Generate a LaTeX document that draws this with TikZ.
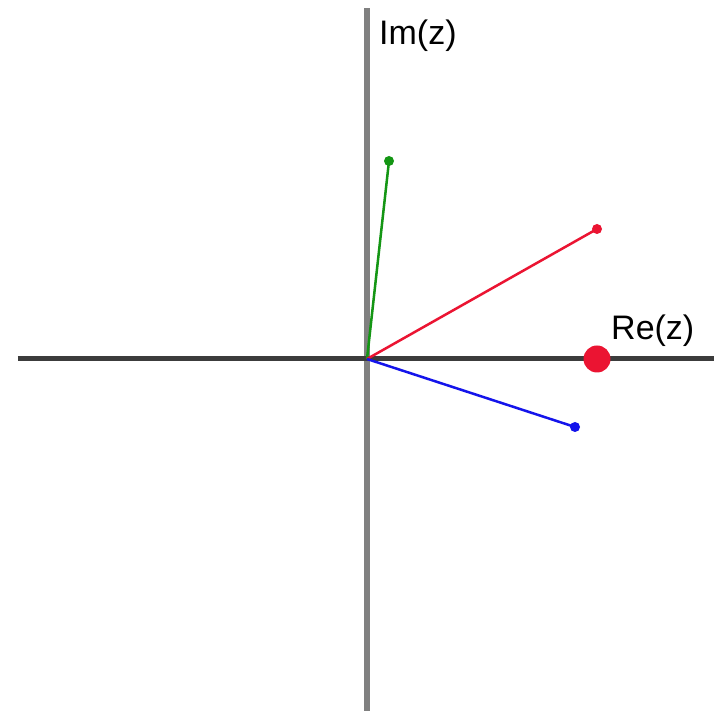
\documentclass[tikz,border=0pt]{standalone}
\usepackage{fontspec}
\setmainfont{Liberation Sans}
\usetikzlibrary{positioning}
\definecolor{axisdark}{RGB}{60,60,60}
\definecolor{axisgray}{RGB}{128,128,128}
\definecolor{vecred}{RGB}{235,20,50}
\definecolor{vecgreen}{RGB}{20,150,20}
\definecolor{vecblue}{RGB}{20,20,235}
\tikzset{
  vec/.style={line width=2.5pt},
  tipdot/.style={circle, inner sep=0pt, minimum size=10pt},
  axlabel/.style={font=\fontsize{34}{40}\selectfont, inner sep=0pt}
}
\begin{document}
\begin{tikzpicture}[x=1pt, y=1pt]
        \useasboundingbox (-367,-352) rectangle (347,359);
        \fill[white] (-367,-352) rectangle (347,359);
        % axes
        \coordinate (origin) at (0,0);
        \coordinate (xleft) at (-349,0);
        \coordinate (xright) at (347,0);
        \coordinate (ytop) at (0,351);
        \coordinate (ybottom) at (0,-352);
        \draw[axisgray, line width=6pt] (ybottom) -- (ytop);
        \draw[axisdark, line width=5pt] (xleft) -- (xright);
        \node[axlabel, anchor=west] (imlabel) at (12,323) {Im(z)};
        \node[axlabel, anchor=west] (relabel) at (244,28) {Re(z)};
        % vectors
        \node[tipdot, fill=vecgreen] (zgreen) at (22,198) {};
        \node[tipdot, fill=vecred] (zred) at (230,130) {};
        \node[tipdot, fill=vecblue] (zblue) at (208,-68) {};
        \draw[vec, vecgreen] (origin) -- (zgreen.center);
        \draw[vec, vecred] (origin) -- (zred.center);
        \draw[vec, vecblue] (origin) -- (zblue.center);
        % real point
        \node[circle, fill=vecred, inner sep=0pt, minimum size=27pt] (zreal) at (230,0) {};
      \end{tikzpicture}
\end{document}
